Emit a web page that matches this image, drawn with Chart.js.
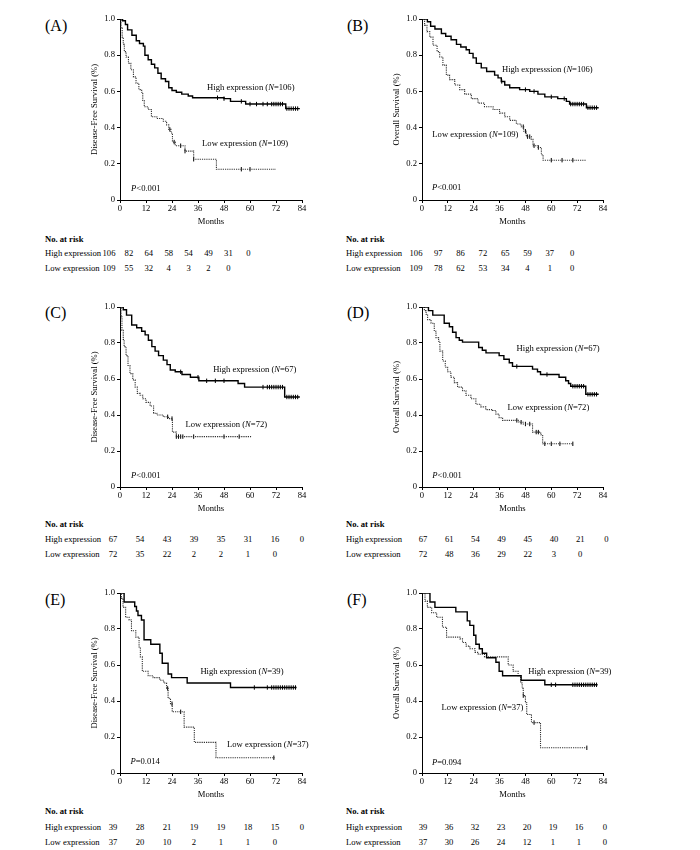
<!DOCTYPE html>
<html>
<head>
<meta charset="utf-8">
<script src="https://cdn.jsdelivr.net/npm/chart.js@4.4.0/dist/chart.umd.min.js"></script>
<style>
  body { margin: 0; width: 700px; height: 850px; position: relative; background: #fff; font-family: "Liberation Serif", "Times New Roman", serif; color: #000; }
  .txt { position: absolute; font-size: 8.6px; line-height: 1; white-space: nowrap; }
  .letter { position: absolute; font-size: 16px; line-height: 1; white-space: nowrap; transform: translateY(-50%); }
</style>
</head>
<body>
<script>
// axis ticks
const xTicks = [0, 12, 24, 36, 48, 60, 72, 84];
const yTicks = [0, 0.2, 0.4, 0.6, 0.8, 1.0];
const yTickLabels = ['0', '0.2', '0.4', '0.6', '0.8', '1.0'];

// (A) disease-free survival, all patients
const aHighT = [0, 1.2, 2.5, 3.5, 5.5, 7.5, 9, 10.8, 11.5, 13, 14.5, 16, 17.5, 19, 21, 22.5, 24, 26, 28.5, 31.5, 33.5, 48, 51, 58, 76.5, 83];
const aHighS = [1, 0.99, 0.97, 0.94, 0.91, 0.88, 0.865, 0.85, 0.80, 0.775, 0.75, 0.73, 0.70, 0.67, 0.655, 0.62, 0.605, 0.595, 0.585, 0.575, 0.565, 0.56, 0.545, 0.53, 0.505, 0.505];
const aHighC = [45, 48, 56, 60, 63, 66, 68, 70, 71, 72, 73, 74, 75, 77, 78, 79, 80, 81, 82];
const aLowT = [0, 0.5, 1, 1.5, 2, 2.8, 3.9, 5, 6.2, 7.4, 8.7, 10, 10.5, 11.2, 13, 14.5, 17, 20, 21.5, 22.5, 23.5, 24.2, 25.5, 30, 34, 44.5, 72];
const aLowS = [1, 0.95, 0.90, 0.86, 0.82, 0.79, 0.755, 0.72, 0.68, 0.645, 0.61, 0.595, 0.55, 0.515, 0.50, 0.46, 0.45, 0.435, 0.415, 0.39, 0.37, 0.32, 0.30, 0.27, 0.225, 0.17, 0.17];
const aLowC = [23, 25, 28, 30, 34, 56, 60];
const aRiskHigh = [106, 82, 64, 58, 54, 49, 31, 0];
const aRiskLow = [109, 55, 32, 4, 3, 2, 0];
const aN = [106, 109];

// (B) overall survival, all patients
const bHighT = [0, 2.5, 4, 6, 9, 11, 13.5, 16, 18, 20.5, 22, 23.7, 25.2, 27.5, 30, 33.7, 35.3, 36.8, 38.4, 40.7, 45.3, 50, 53.8, 57, 63, 67, 68.5, 76.3, 82];
const bHighS = [1, 0.985, 0.96, 0.945, 0.92, 0.905, 0.885, 0.86, 0.845, 0.83, 0.81, 0.785, 0.755, 0.73, 0.71, 0.69, 0.675, 0.655, 0.635, 0.62, 0.61, 0.60, 0.585, 0.57, 0.56, 0.545, 0.53, 0.51, 0.51];
const bHighC = [37, 48, 52, 60, 66, 69, 70, 71, 72, 73, 74, 75, 77, 78, 79, 80, 81];
const bLowT = [0, 1.2, 2.3, 3.6, 5.1, 7, 8.2, 9.7, 11.3, 12.8, 15.2, 17.5, 19.8, 22.9, 26, 29, 33, 36, 38.4, 40.7, 43.8, 46, 47.2, 48.4, 50.7, 51.5, 53.8, 55.4, 56.2, 76];
const bLowS = [1, 0.965, 0.93, 0.90, 0.855, 0.82, 0.79, 0.745, 0.69, 0.665, 0.635, 0.61, 0.585, 0.56, 0.535, 0.515, 0.50, 0.48, 0.46, 0.44, 0.42, 0.405, 0.38, 0.35, 0.335, 0.30, 0.29, 0.25, 0.22, 0.22];
const bLowC = [47, 48, 49, 50, 52, 54, 60, 65, 70];
const bRiskHigh = [106, 97, 86, 72, 65, 59, 37, 0];
const bRiskLow = [109, 78, 62, 53, 34, 4, 1, 0];
const bN = [106, 109];

// (C) disease-free survival, subgroup
const cHighT = [0, 1.5, 3, 5.4, 7.7, 10, 11.6, 13.1, 14.7, 16.2, 17.8, 20, 21.7, 23.2, 25.5, 28.6, 32.5, 36.4, 54.5, 57.5, 76, 83];
const cHighS = [1, 0.985, 0.955, 0.90, 0.885, 0.865, 0.845, 0.815, 0.78, 0.755, 0.73, 0.705, 0.68, 0.65, 0.64, 0.625, 0.61, 0.59, 0.575, 0.555, 0.50, 0.50];
const cHighC = [28, 36, 40, 44, 48, 66, 68, 69, 70, 71, 72, 73, 74, 75, 77, 78, 79, 80, 81, 82];
const cLowT = [0, 0.5, 0.9, 1.5, 1.9, 2.8, 3.7, 4.6, 5.9, 7, 8, 9.3, 10.5, 12, 13.9, 15.5, 17, 20, 22.4, 24.2, 26, 60.5];
const cLowS = [1, 0.945, 0.87, 0.82, 0.78, 0.73, 0.675, 0.63, 0.595, 0.555, 0.52, 0.51, 0.49, 0.47, 0.45, 0.41, 0.40, 0.39, 0.38, 0.305, 0.28, 0.28];
const cLowC = [22, 24, 26, 27, 28, 29, 34, 48, 55];
const cRiskHigh = [67, 54, 43, 39, 35, 31, 16, 0];
const cRiskLow = [72, 35, 22, 2, 2, 1, 0];
const cN = [67, 72];

// (D) overall survival, subgroup
const dHighT = [0, 3, 5, 10.3, 12.7, 14.2, 15.8, 17.3, 18.8, 26.3, 28, 29.7, 35.8, 38, 40.5, 42, 51.3, 53.6, 55, 63.6, 66.7, 68, 69, 76, 82];
const dHighS = [1, 0.98, 0.955, 0.91, 0.89, 0.86, 0.83, 0.815, 0.805, 0.775, 0.76, 0.745, 0.73, 0.71, 0.69, 0.67, 0.655, 0.64, 0.625, 0.61, 0.59, 0.575, 0.56, 0.515, 0.515];
const dHighC = [44, 58, 70, 71, 72, 73, 74, 75, 77, 78, 79, 80, 81];
const dLowT = [0, 1.1, 1.9, 2.6, 4.2, 5.7, 6.5, 7.7, 8.3, 9.6, 10.8, 11.9, 13.4, 15, 16.5, 18.8, 20.4, 22.7, 25, 27.3, 29.6, 32.7, 34.3, 35.8, 37.4, 45, 47, 51.3, 55.1, 56, 70];
const dLowS = [1, 0.98, 0.96, 0.93, 0.91, 0.865, 0.83, 0.81, 0.755, 0.70, 0.665, 0.64, 0.61, 0.58, 0.555, 0.535, 0.51, 0.49, 0.46, 0.445, 0.43, 0.425, 0.405, 0.385, 0.37, 0.36, 0.35, 0.305, 0.29, 0.24, 0.24];
const dLowC = [44, 46, 48, 50, 53, 54, 57, 60, 64, 70];
const dRiskHigh = [67, 61, 54, 49, 45, 40, 21, 0];
const dRiskLow = [72, 48, 36, 29, 22, 3, 0];
const dN = [67, 72];

// (E) disease-free survival, second subgroup
const eHighT = [0, 1.9, 6.8, 7.6, 8.3, 9.9, 11.1, 14.2, 18.4, 19.5, 22.2, 23.8, 31, 51, 81.5];
const eHighS = [1, 0.95, 0.925, 0.90, 0.875, 0.85, 0.74, 0.715, 0.665, 0.61, 0.55, 0.53, 0.50, 0.475, 0.475];
const eHighC = [62, 68, 70, 71, 72, 73, 74, 75, 76, 77, 78, 79, 80, 81];
const eLowT = [0, 0.6, 1.4, 2.6, 4.2, 5.3, 7.3, 8.8, 9.4, 10.3, 13, 15.3, 18.4, 20.2, 21.5, 22.2, 23.3, 24.1, 29.6, 34.3, 44.3, 71.5];
const eLowS = [1, 0.97, 0.92, 0.865, 0.85, 0.79, 0.755, 0.70, 0.645, 0.565, 0.54, 0.53, 0.515, 0.50, 0.47, 0.415, 0.385, 0.34, 0.255, 0.17, 0.085, 0.085];
const eLowC = [22, 24, 28, 71];
const eRiskHigh = [39, 28, 21, 19, 19, 18, 15, 0];
const eRiskLow = [37, 20, 10, 2, 1, 1, 0];
const eN = [39, 37];

// (F) overall survival, second subgroup
const fHighT = [0, 3.7, 6, 15.7, 21, 22.2, 24, 25, 26.6, 28, 30, 34.3, 35.8, 37.4, 46, 57, 81.5];
const fHighS = [1, 0.95, 0.92, 0.895, 0.845, 0.82, 0.765, 0.715, 0.69, 0.665, 0.64, 0.615, 0.565, 0.54, 0.515, 0.49, 0.49];
const fHighC = [60, 62, 70, 71, 72, 73, 74, 75, 76, 77, 78, 79, 80, 81];
const fLowT = [0, 1.4, 2.5, 4.5, 6.8, 9.5, 11.4, 17.6, 18.8, 20.5, 22.2, 24.6, 26.1, 29, 40, 42.3, 44.6, 45.8, 46.5, 47, 48, 48.6, 50.8, 55, 76.5];
const fLowS = [1, 0.955, 0.92, 0.89, 0.865, 0.81, 0.755, 0.745, 0.725, 0.705, 0.69, 0.67, 0.66, 0.645, 0.60, 0.565, 0.54, 0.50, 0.47, 0.43, 0.39, 0.325, 0.28, 0.14, 0.14];
const fLowC = [47, 52, 76.5];
const fRiskHigh = [39, 36, 32, 23, 20, 19, 16, 0];
const fRiskLow = [37, 30, 26, 24, 12, 1, 1, 0];
const fN = [39, 37];

// layout
const DFS = 'Disease-Free Survival (%)';
const OS = 'Overall Survival (%)';
const colL = { areaL: 120, areaR: 302, letterX: 45, tblX: 45 };
const colR = { areaL: 422, areaR: 603, letterX: 347, tblX: 346 };
const row1 = { areaT: 19, areaB: 200, letterY: 26, tbl: [239, 253, 268] };
const row2 = { areaT: 307, areaB: 487, letterY: 313, tbl: [524, 539, 554] };
const row3 = { areaT: 593, areaB: 773, letterY: 600, tbl: [811, 827, 842] };

const panels = [
  { letter: 'A', col: colL, row: row1, yTitle: DFS, hi: [aHighT, aHighS, aHighC], lo: [aLowT, aLowS, aLowC], risk: [aRiskHigh, aRiskLow], n: aN, p: '<0.001', hiWord: 'High expression',
    hiAt: [40.2, 0.62], loAt: [37.9, 0.31], pAt: [5.1, 0.06], cols: [109, 19.9] },
  { letter: 'B', col: colR, row: row1, yTitle: OS, hi: [bHighT, bHighS, bHighC], lo: [bLowT, bLowS, bLowC], risk: [bRiskHigh, bRiskLow], n: bN, p: '<0.001', hiWord: 'High expresssion',
    hiAt: [37.1, 0.72], loAt: [4.8, 0.36], pAt: [4.6, 0.07], cols: [416, 22.3] },
  { letter: 'C', col: colL, row: row2, yTitle: DFS, hi: [cHighT, cHighS, cHighC], lo: [cLowT, cLowS, cLowC], risk: [cRiskHigh, cRiskLow], n: cN, p: '<0.001', hiWord: 'High expression',
    hiAt: [43, 0.654], loAt: [30.2, 0.346], pAt: [5.1, 0.065], cols: [113, 27] },
  { letter: 'D', col: colR, row: row2, yTitle: OS, hi: [dHighT, dHighS, dHighC], lo: [dLowT, dLowS, dLowC], risk: [dRiskHigh, dRiskLow], n: dN, p: '<0.001', hiWord: 'High expression',
    hiAt: [43.9, 0.766], loAt: [39.7, 0.44], pAt: [4.8, 0.063], cols: [423, 26.2] },
  { letter: 'E', col: colL, row: row3, yTitle: DFS, hi: [eHighT, eHighS, eHighC], lo: [eLowT, eLowS, eLowC], risk: [eRiskHigh, eRiskLow], n: eN, p: '=0.014', hiWord: 'High expression',
    hiAt: [37.1, 0.564], loAt: [49.4, 0.157], pAt: [4.8, 0.061], cols: [113, 27] },
  { letter: 'F', col: colR, row: row3, yTitle: OS, hi: [fHighT, fHighS, fHighC], lo: [fLowT, fLowS, fLowC], risk: [fRiskHigh, fRiskLow], n: fN, p: '=0.094', hiWord: 'High expression',
    hiAt: [49.3, 0.562], loAt: [9.1, 0.36], pAt: [4.6, 0.059], cols: [423, 26] }
];

const FONT = '"Liberation Serif", "Times New Roman", serif';
const FS = 8.6;
Chart.defaults.font.family = FONT;
Chart.defaults.color = '#000';

function steps(t, s) { return t.map((x, i) => ({ x: x, y: s[i] })); }
function survAt(t, s, when) {
  let v = s[0];
  for (let i = 0; i < t.length; i++) if (t[i] <= when) v = s[i];
  return v;
}
function marks(t, s, c) { return c.map(x => ({ x: x, y: survAt(t, s, x) })); }

// text inside the plot (labels and P value), with italic parts
const notesPlugin = {
  id: 'notes',
  afterDatasetsDraw(chart, args, opts) {
    const ctx = chart.ctx, xs = chart.scales.x, ys = chart.scales.y;
    ctx.save();
    ctx.fillStyle = '#000';
    ctx.textBaseline = 'middle';
    ctx.textAlign = 'left';
    opts.items.forEach(item => {
      let x = xs.getPixelForValue(item.at[0]);
      const y = ys.getPixelForValue(item.at[1]);
      item.parts.forEach(([txt, it]) => {
        ctx.font = (it ? 'italic ' : '') + FS + 'px ' + FONT;
        ctx.fillText(txt, x, y);
        x += ctx.measureText(txt).width;
      });
    });
    ctx.restore();
  }
};

function addText(str, x, y, align, bold) {
  const d = document.createElement('div');
  d.className = 'txt';
  d.textContent = str;
  d.style.left = x + 'px';
  d.style.top = y + 'px';
  d.style.transform = align === 'center' ? 'translate(-50%, -50%)' : 'translateY(-50%)';
  if (bold) d.style.fontWeight = 'bold';
  document.body.appendChild(d);
}

function makePanel(p) {
  const left = p.col.areaL - 36, top = p.row.areaT - 10;
  const w = p.col.areaR + 12 - left, h = p.row.areaB + 27 - top;
  const cv = document.createElement('canvas');
  cv.width = w; cv.height = h;
  cv.style.cssText = 'position:absolute;left:' + left + 'px;top:' + top + 'px;width:' + w + 'px;height:' + h + 'px';
  document.body.appendChild(cv);

  const axisCommon = {
    grid: { display: true, drawOnChartArea: false, drawTicks: true, tickLength: 3, color: '#000', lineWidth: 1 },
    border: { display: true, color: '#000', width: 1 },
  };

  new Chart(cv, {
    type: 'line',
    data: {
      datasets: [
        { data: steps(p.hi[0], p.hi[1]), stepped: true, borderColor: '#000', borderWidth: 1.4, pointRadius: 0, fill: false },
        { data: steps(p.lo[0], p.lo[1]), stepped: true, borderColor: '#333', borderWidth: 1.1, borderDash: [1.2, 1], pointRadius: 0, fill: false },
        { data: marks(p.hi[0], p.hi[1], p.hi[2]), showLine: false, pointStyle: 'line', rotation: 90, pointRadius: 2.2, borderColor: '#000', borderWidth: 1 },
        { data: marks(p.lo[0], p.lo[1], p.lo[2]), showLine: false, pointStyle: 'line', rotation: 90, pointRadius: 2.2, borderColor: '#000', borderWidth: 1 }
      ]
    },
    options: {
      responsive: false,
      animation: false,
      events: [],
      layout: { padding: { top: 10, right: 12, left: 0, bottom: 0 } },
      plugins: {
        legend: { display: false },
        tooltip: { enabled: false },
        notes: {
          items: [
            { at: p.hiAt, parts: [[p.hiWord + ' (', false], ['N', true], ['=' + p.n[0] + ')', false]] },
            { at: p.loAt, parts: [['Low expression (', false], ['N', true], ['=' + p.n[1] + ')', false]] },
            { at: p.pAt, parts: [['P', true], [p.p, false]] }
          ]
        }
      },
      scales: {
        x: Object.assign({
          type: 'linear', min: 0, max: 84,
          afterBuildTicks: s => { s.ticks = xTicks.map(v => ({ value: v })); },
          afterFit: s => { s.height = 27; },
          ticks: { font: { size: FS }, padding: 1, maxRotation: 0, callback: v => String(v) },
          title: { display: true, text: 'Months', font: { size: FS }, padding: { top: 0, bottom: 0 } }
        }, axisCommon),
        y: Object.assign({
          type: 'linear', min: 0, max: 1,
          afterBuildTicks: s => { s.ticks = yTicks.map(v => ({ value: v })); },
          afterFit: s => { s.width = 36; },
          ticks: { font: { size: FS }, padding: 2, callback: (v, i) => yTickLabels[i] },
          title: { display: true, text: p.yTitle, font: { size: FS }, padding: { top: 5.5, bottom: 0 } }
        }, axisCommon)
      }
    },
    plugins: [notesPlugin]
  });

  // panel letter
  const L = document.createElement('div');
  L.className = 'letter';
  L.textContent = '(' + p.letter + ')';
  L.style.left = p.col.letterX + 'px';
  L.style.top = p.row.letterY + 'px';
  document.body.appendChild(L);

  // risk table
  const [yHead, yHi, yLo] = p.row.tbl;
  addText('No. at risk', p.col.tblX, yHead, 'left', true);
  addText('High expression', p.col.tblX, yHi, 'left');
  addText('Low expression', p.col.tblX, yLo, 'left');
  p.risk[0].forEach((v, i) => addText(String(v), p.cols[0] + i * p.cols[1], yHi, 'center'));
  p.risk[1].forEach((v, i) => addText(String(v), p.cols[0] + i * p.cols[1], yLo, 'center'));
}

panels.forEach(makePanel);
</script>
</body>
</html>
